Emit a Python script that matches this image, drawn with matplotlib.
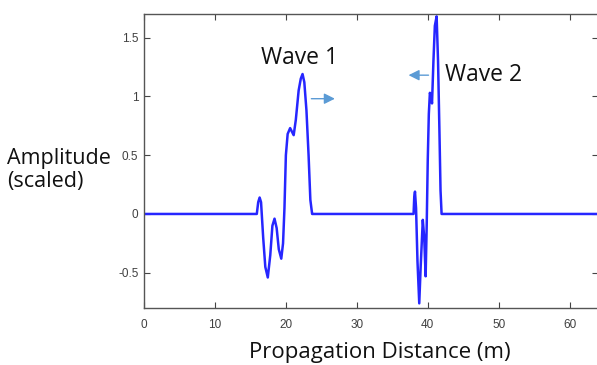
import matplotlib
matplotlib.use("Agg")
from matplotlib import pyplot as plt

# trace
dist = [0, 15.9, 16.1, 16.3, 16.5, 16.8, 17.1, 17.45, 17.8, 18.1, 18.4, 18.7, 19.0, 19.35,
        19.6, 19.8, 20.0, 20.25, 20.6, 20.85, 21.1, 21.4, 21.8, 22.1, 22.35, 22.6, 22.9,
        23.2, 23.45, 23.7, 23.9,
        38.0, 38.1, 38.2, 38.35, 38.55, 38.8, 39.0, 39.3, 39.5, 39.7, 39.85, 40.0, 40.15,
        40.3, 40.45, 40.6, 40.8, 41.0, 41.25, 41.45, 41.65, 41.8, 41.95, 64]
amp = [0, 0, 0.1, 0.14, 0.1, -0.2, -0.45, -0.54, -0.35, -0.1, -0.04, -0.12, -0.3, -0.38,
       -0.25, 0.05, 0.5, 0.68, 0.73, 0.7, 0.67, 0.8, 1.05, 1.15, 1.19, 1.12, 0.88,
       0.5, 0.12, 0.0, 0,
       0, 0.15, 0.19, 0.05, -0.4, -0.76, -0.45, -0.05, -0.2, -0.53, -0.1, 0.46, 0.85,
       1.03, 1.0, 0.94, 1.3, 1.6, 1.68, 1.3, 0.69, 0.2, 0.0, 0]

xticks = [0, 10, 20, 30, 40, 50, 60]
yticks = [-0.5, 0, 0.5, 1, 1.5]
ytick_labels = ["-0.5", "0", "0.5", "1", "1.5"]

plt.rcParams['font.family'] = ['Liberation Sans', 'DejaVu Sans']

fig = plt.figure(figsize=(5.97, 3.65), dpi=100)
ax = fig.add_axes([0.2412, 0.156, 0.7605, 0.8056])
ax.plot(dist, amp, color="#2626ff", lw=1.8)
ax.set_xlim(0, 64)
ax.set_ylim(-0.8, 1.7)
ax.set_xticks(xticks)
ax.set_yticks(yticks)
ax.set_yticklabels(ytick_labels)
ax.tick_params(direction="in", top=True, right=True, length=4, width=0.8,
               labelsize=8.5, colors="#444444")
ax.tick_params(axis="x", pad=8)
ax.tick_params(axis="y", pad=4)
ax.tick_params(labelcolor="#404040")
for s in ax.spines.values():
    s.set_color("#555555")
    s.set_linewidth(1.0)

big = ['Open Sans', 'DejaVu Sans']
ax.set_xlabel("Propagation Distance (m)", fontsize=16, color="#111111", labelpad=8,
              family=big)
ax.xaxis.label.set_x(0.52)
fig.text(0.012, 0.535, "Amplitude\n(scaled)", fontsize=15.5, color="#111111",
         ha="left", va="center", linespacing=1.1, family=big)

ax.text(21.9, 1.33, "Wave 1", fontsize=16.5, ha="center", va="center", color="#111111",
        family=big)
ax.text(42.5, 1.18, "Wave 2", fontsize=16.5, ha="left", va="center", color="#111111",
        family=big)
arrow = dict(arrowstyle="-|>", color="#5b9bd5", lw=1.0, mutation_scale=16)
ax.annotate("", xy=(27.3, 0.98), xytext=(23.2, 0.98), arrowprops=arrow)
ax.annotate("", xy=(36.9, 1.18), xytext=(40.5, 1.18), arrowprops=arrow)

fig.savefig("out.png", dpi=100)
